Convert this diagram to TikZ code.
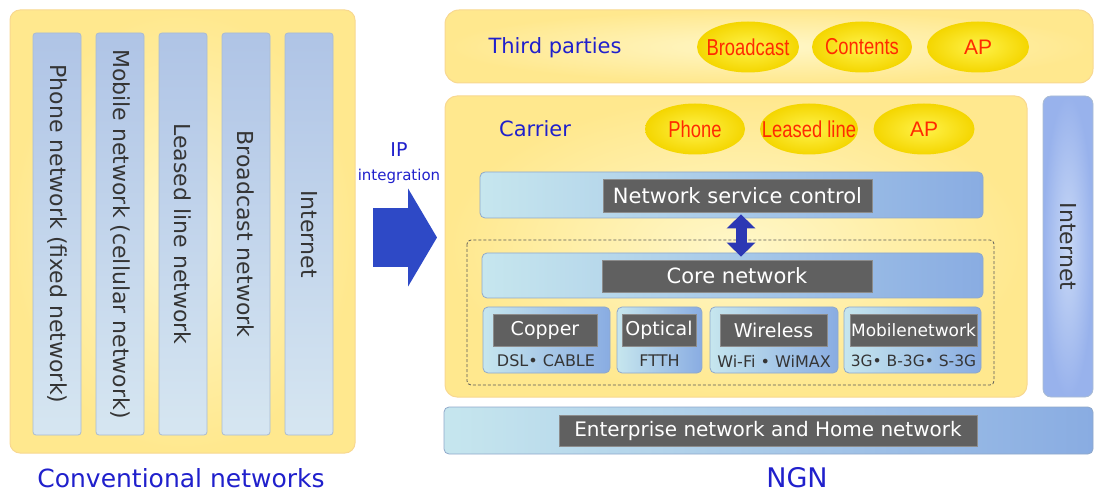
\documentclass[tikz,border=0pt]{standalone}
\usepackage{fontspec}
\usepackage{graphicx}
\setmainfont{DejaVu Sans}
\newfontfamily\condfont{Liberation Sans}
\usetikzlibrary{arrows.meta,shapes.geometric}

\definecolor{panelin}{HTML}{FFF7C8}
\definecolor{panelout}{HTML}{FFE88E}
\definecolor{panelline}{HTML}{F8D890}
\definecolor{coltop}{HTML}{AFC4E6}
\definecolor{colbot}{HTML}{D6E6F1}
\definecolor{colline}{HTML}{A9BBD3}
\definecolor{barleft}{HTML}{C6E6EE}
\definecolor{barright}{HTML}{89ACE2}
\definecolor{barline}{HTML}{8FA8CA}
\definecolor{tagfill}{HTML}{606060}
\definecolor{tagline}{HTML}{8C8C8C}
\definecolor{ellin}{HTML}{FFF24A}
\definecolor{ellout}{HTML}{F4D600}
\definecolor{labred}{HTML}{FF2A00}
\definecolor{labblue}{HTML}{2020CC}
\definecolor{arrowblue}{HTML}{2E49C6}
\definecolor{darrow}{HTML}{2C38B4}
\definecolor{netin}{HTML}{C8D8F6}
\definecolor{netout}{HTML}{98B2EC}
\definecolor{coltext}{HTML}{353535}

\newcommand\fsz[1]{\fontsize{#1}{#1}\selectfont}
% condensed label that does not widen its ellipse
\newcommand\cnd[1]{\makebox[0pt]{\scalebox{0.8}[1]{#1}}}

\tikzset{
  panel/.style={draw=panelline, line width=1pt, rounded corners=10pt,
    inner color=panelin, outer color=panelout, inner sep=0pt},
  colbox/.style={draw=colline, line width=0.8pt, rounded corners=3pt,
    top color=coltop, bottom color=colbot, minimum width=48, minimum height=402,
    inner sep=0pt},
  coltxt/.style={rotate=-90, inner sep=0pt, text=coltext, font=\fsz{22}},
  bar/.style={draw=barline, line width=0.8pt, rounded corners=5pt,
    left color=barleft, right color=barright, inner sep=0pt},
  tag/.style={draw=tagline, line width=0.6pt, fill=tagfill, text=white,
    inner sep=0pt, font=\fsz{21}},
  bubble/.style={ellipse, inner sep=0pt, minimum height=51,
    inner color=ellin, outer color=ellout, text=labred, font=\condfont\fsz{23}},
  bluelabel/.style={text=labblue, inner sep=0pt},
  subnote/.style={text=coltext, inner sep=0pt, font=\fsz{16}},
}

\begin{document}
\begin{tikzpicture}[x=1pt, y=-1pt]
\useasboundingbox (0,0) rectangle (1095,494);

% ---- conventional networks ----
\node[panel, minimum width=345, minimum height=443] (conv) at (182.5,231.5) {};
\node[colbox] (phone) at (57,234) {};
\node[colbox] (mobile) at (120,234) {};
\node[colbox] (leased) at (183,234) {};
\node[colbox] (bcast) at (246,234) {};
\node[colbox] (inet) at (309,234) {};
\node[coltxt] at (phone.center) {Phone network (fixed network)};
\node[coltxt] at (mobile.center) {Mobile network (cellular network)};
\node[coltxt] at (leased.center) {Leased line network};
\node[coltxt] at (bcast.center) {Broadcast network};
\node[coltxt] at (inet.center) {Internet};
\node[bluelabel, font=\fsz{25}] (convlbl) at (181,478) {Conventional networks};

% ---- IP integration arrow ----
\node[bluelabel, font=\fsz{19}] (iplbl) at (399,150) {IP};
\node[bluelabel, font=\fsz{15}] (integlbl) at (399,176) {integration};
\coordinate (ipfrom) at (373,237.5);
\coordinate (ipto) at (437,237.5);
\draw[draw=arrowblue, line width=59pt,
  -{Triangle[width=97pt,length=29pt,fill=arrowblue]}] (ipfrom) -- (ipto);

% ---- third parties ----
\node[panel, rounded corners=14pt, minimum width=648, minimum height=73] (third) at (769,46.5) {};
\node[bluelabel, font=\fsz{21}] (thirdlbl) at (555,48) {Third parties};
\node[bubble, minimum width=102] (tbc) at (748,47) {\cnd{Broadcast}};
\node[bubble, minimum width=100] (tct) at (862,47) {\cnd{Contents}};
\node[bubble, minimum width=102, font=\condfont\fsz{21}] (tap) at (978,47) {\makebox[0pt]{AP}};

% ---- carrier ----
\node[panel, rounded corners=12pt, minimum width=582, minimum height=301] (carrier) at (736,246.5) {};
\node[bluelabel, font=\fsz{21}] (carrlbl) at (535,129) {Carrier};
\node[bubble, minimum width=100] (cph) at (695,129) {\cnd{Phone}};
\node[bubble, minimum width=98] (cll) at (809,129) {\cnd{Leased line}};
\node[bubble, minimum width=101, font=\condfont\fsz{21}] (cap) at (924,129) {\makebox[0pt]{AP}};

\node[bar, minimum width=503, minimum height=46] (nsc) at (731.5,195) {};
\node[tag, minimum width=269, minimum height=33] (nsctag) at (737.5,195.5) {Network service control};

\draw[densely dashed, draw=black!65, line width=0.8pt, rounded corners=4pt]
  (467,240) rectangle (994,385);

\node[bar, minimum width=501, minimum height=45] (core) at (732.5,275.5) {};
\node[tag, minimum width=270, minimum height=32] (coretag) at (737,276) {Core network};

\draw[draw=darrow, line width=11pt,
  {Triangle[width=28pt,length=14pt,fill=darrow]}-{Triangle[width=28pt,length=14pt,fill=darrow]},
  shorten <=-4pt, shorten >=-4pt] (nsc.south -| 741,0) -- (core.north -| 741,0);

% access networks
\node[bar, minimum width=127, minimum height=66] (copper) at (546.5,340) {};
\node[bar, minimum width=85, minimum height=66] (optical) at (659.5,340) {};
\node[bar, minimum width=128, minimum height=66] (wireless) at (774,340) {};
\node[bar, minimum width=137, minimum height=66] (mobnet) at (912.5,340) {};

\node[tag, font=\fsz{19}, minimum width=104, minimum height=32] (coppertag) at (545,330) {Copper};
\node[tag, font=\fsz{19}, minimum width=74, minimum height=32] (opticaltag) at (659,330) {Optical};
\node[tag, font=\fsz{19}, minimum width=107, minimum height=32] (wirelesstag) at (773.5,330) {Wireless};
\node[tag, font=\fsz{17}, minimum width=127, minimum height=32] (mobnettag) at (913.5,330) {Mobilenetwork};

\node[subnote] (coppernote) at (546,361) {DSL• CABLE};
\node[subnote] (opticalnote) at (659.5,361) {FTTH};
\node[subnote] (wirelessnote) at (774,361) {Wi-Fi • WiMAX};
\node[subnote, font=\fsz{15.5}] (mobnetnote) at (913.5,361) {3G• B-3G• S-3G};

% ---- internet on the NGN side ----
\node[draw=colline, line width=0.8pt, rounded corners=8pt,
  inner color=netin, outer color=netout, minimum width=50, minimum height=301,
  inner sep=0pt] (ngninet) at (1068,246.5) {};
\node[coltxt] at (ngninet.center) {Internet};

% ---- enterprise / home ----
\node[bar, minimum width=649, minimum height=47] (ent) at (768.5,430.5) {};
\node[tag, font=\fsz{20}, minimum width=418, minimum height=31] (enttag) at (768,430.5) {Enterprise network and Home network};

\node[bluelabel, font=\fsz{27}] (ngnlbl) at (797,478) {NGN};
\end{tikzpicture}
\end{document}
